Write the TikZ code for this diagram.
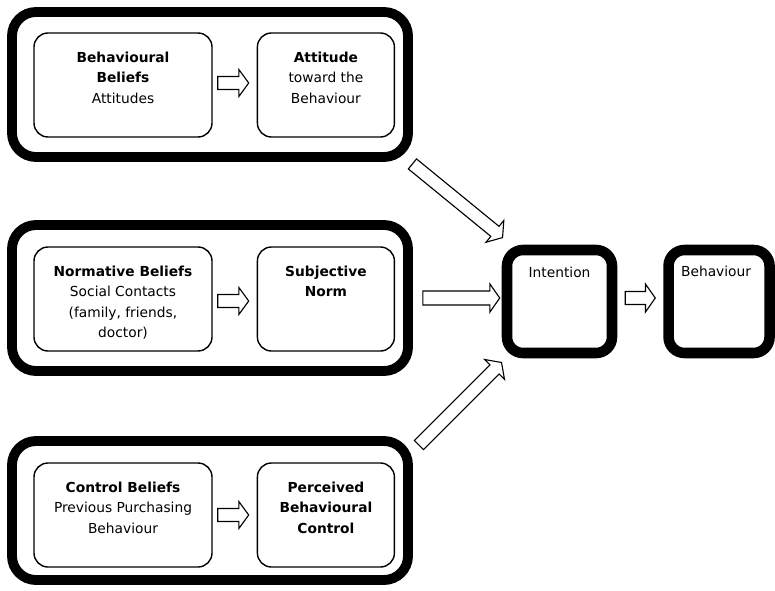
\documentclass[tikz,border=0pt]{standalone}
\usepackage{fontspec}
\setmainfont{DejaVu Sans}
\usetikzlibrary{positioning, calc}

% hollow block arrow from #1 to #2 (shaft half width #3, head half width #4, head length #5)
\newcommand{\fatarrow}[5]{%
  \draw[arrowline] let \p1=(#1), \p2=(#2),
      \n1={atan2(\y2-\y1,\x2-\x1)}, \n2={veclen(\x2-\x1,\y2-\y1)} in
    [shift={(\p1)}, rotate=\n1]
    (0pt,#3) -- ({\n2-#5},#3) -- ({\n2-#5},#4) -- (\n2,0pt)
    -- ({\n2-#5},-#4) -- ({\n2-#5},-#3) -- (0pt,-#3) -- cycle;}

\begin{document}
\begin{tikzpicture}[
    outerbox/.style={draw, line width=7pt, rounded corners=0.6cm, minimum width=9.9cm},
    innerbox/.style={draw, line width=1pt, rounded corners=0.35cm, minimum height=2.6cm},
    midbox/.style={draw, line width=7.5pt, rounded corners=0.4cm, minimum height=2.575cm},
    boxtext/.style={align=center, inner sep=0pt, font=\fontsize{9.8}{14.5}\selectfont},
    arrowline/.style={draw, fill=white, line width=0.8pt, line join=miter},
]
\useasboundingbox (0,0) rectangle (19.375,-14.75);

% ── Attitude ──
\node[outerbox, minimum height=3.625cm] (attbox) at (5.25,-2.1125) {};
\node[innerbox, minimum width=4.45cm] (bb) at (3.075,-2.125) {};
\node[innerbox, minimum width=3.425cm, right=1.1cm of bb] (att) {};
\node[boxtext, below=0.48cm of bb.north] (bbtxt) {\textbf{Behavioural}\\\textbf{Beliefs}\\Attitudes};
\node[boxtext, below=0.48cm of att.north] (atttxt) {\textbf{Attitude}\\toward the\\Behaviour};

% ── Subjective norm ──
\node[outerbox, minimum height=3.65cm] (normbox) at (5.25,-7.45) {};
\node[innerbox, minimum width=4.45cm] (nb) at (3.075,-7.475) {};
\node[innerbox, minimum width=3.425cm, right=1.1cm of nb] (sn) {};
\node[boxtext, below=0.48cm of nb.north] (nbtxt) {\textbf{Normative Beliefs}\\Social Contacts\\(family, friends,\\doctor)};
\node[boxtext, below=0.48cm of sn.north] (sntxt) {\textbf{Subjective}\\\textbf{Norm}};

% ── Perceived control ──
\node[outerbox, minimum height=3.475cm] (ctrlbox) at (5.25,-12.7625) {};
\node[innerbox, minimum width=4.45cm] (cb) at (3.075,-12.875) {};
\node[innerbox, minimum width=3.425cm, right=1.1cm of cb] (pbc) {};
\node[boxtext, below=0.48cm of cb.north] (cbtxt) {\textbf{Control Beliefs}\\Previous Purchasing\\Behaviour};
\node[boxtext, below=0.48cm of pbc.north] (pbctxt) {\textbf{Perceived}\\\textbf{Behavioural}\\\textbf{Control}};

% ── Intention and behaviour ──
\node[midbox, minimum width=2.625cm] (int) at (13.9875,-7.5375) {};
\node[midbox, minimum width=2.525cm, right=1.15cm of int] (beh) {};
\node[boxtext, below=0.56cm of int.north] (inttxt) {Intention};
\node[boxtext, below=0.53cm of beh.north, xshift=-0.075cm] (behtxt) {Behaviour};

% ── Arrows ──
\coordinate (a1tail) at ($(attbox.south east)+(-0.0125,-0.05)$);
\coordinate (a1tip) at ($(int.north west)+(0.025,0.175)$);
\coordinate (a2tail) at ($(normbox.east)+(0.25,0)$);
\coordinate (a2tip) at ($(int.west)+(-0.05,0.0875)$);
\coordinate (a3tail) at ($(ctrlbox.north east)+(0.15,-0.225)$);
\coordinate (a3tip) at ($(int.south west)+(0,-0.1)$);
\coordinate (a4tail) at ($(int.east)+(0.2,0.0875)$);
\coordinate (a4tip) at ($(beh.west)+(-0.2,0.0875)$);

\fatarrow{$(bb.east)+(0.125,0.05)$}{$(att.west)+(-0.2,0.05)$}{4.6pt}{9.6pt}{7pt}
\fatarrow{$(nb.east)+(0.125,-0.05)$}{$(sn.west)+(-0.2,-0.05)$}{4.6pt}{9.6pt}{7pt}
\fatarrow{$(cb.east)+(0.125,0)$}{$(pbc.west)+(-0.2,0)$}{4.6pt}{9.6pt}{7pt}
\fatarrow{a1tail}{a1tip}{4.6pt}{10pt}{7pt}
\fatarrow{a2tail}{a2tip}{5pt}{10pt}{7pt}
\fatarrow{a3tail}{a3tip}{4.6pt}{10pt}{7pt}
\fatarrow{a4tail}{a4tip}{4.6pt}{10pt}{7pt}

\end{tikzpicture}
\end{document}
